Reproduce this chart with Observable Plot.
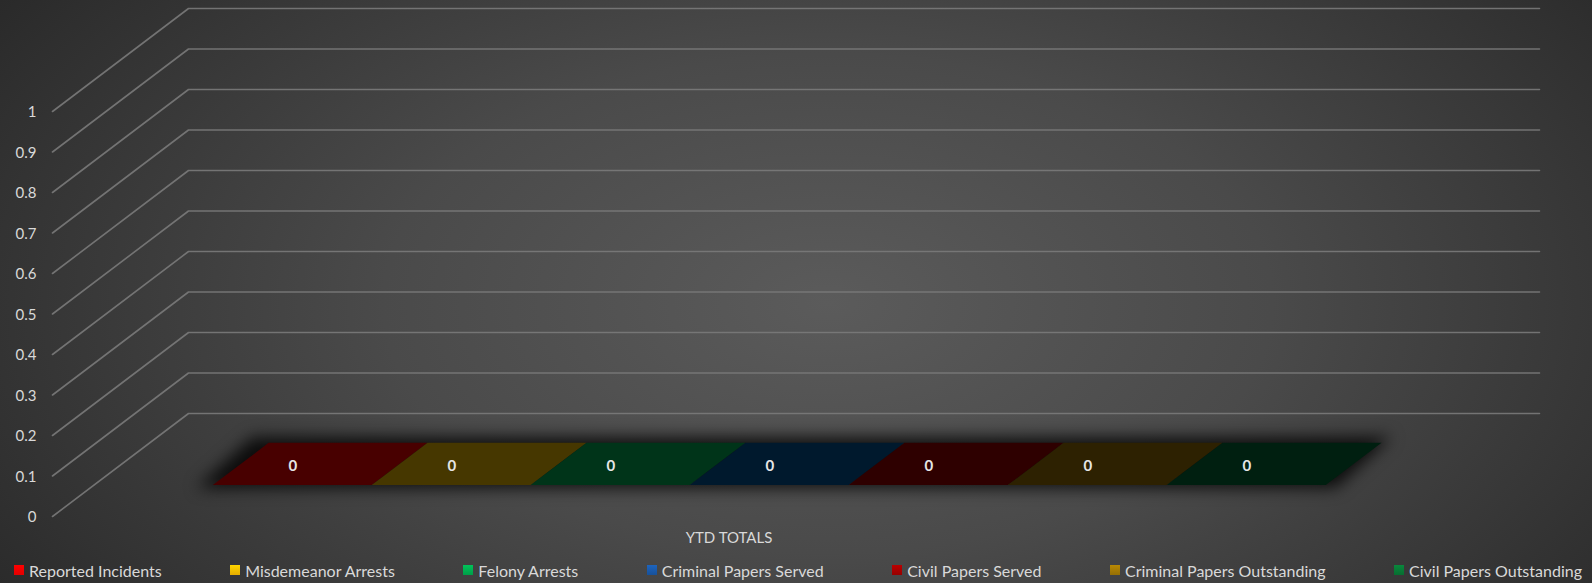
<!DOCTYPE html>
<html>
<head>
<meta charset="utf-8">
<script src="https://cdn.jsdelivr.net/npm/d3@7"></script>
<script src="https://cdn.jsdelivr.net/npm/@observablehq/plot@0.6"></script>
<style>
  html, body { margin: 0; padding: 0; }
  body {
    width: 1592px; height: 583px; overflow: hidden;
    background: radial-gradient(ellipse 62% 95% at 52% 52%, #5b5b5b 0%, #4a4a4a 45%, #2a2a2a 100%);
    font-family: Lato, "Open Sans", sans-serif;
  }
  #chart svg { display: block; background: transparent; }
  #legend {
    display: flex; justify-content: space-between; align-items: center;
    height: 26px; padding: 7px 10px 0 14px; box-sizing: content-box;
    color: #d9d9d9; font-size: 16px; white-space: nowrap;
  }
  .item { display: flex; align-items: center; }
  .sw { width: 10px; height: 10px; margin-right: 5px; }
</style>
</head>
<body>
<div id="chart"></div>
<div id="legend"></div>
<script>
// ---- data ----
const categories = ["Reported Incidents", "Misdemeanor Arrests", "Felony Arrests", "Criminal Papers Served", "Civil Papers Served", "Criminal Papers Outstanding", "Civil Papers Outstanding"];
const values = [0, 0, 0, 0, 0, 0, 0];
const yTicks = [0, 0.1, 0.2, 0.3, 0.4, 0.5, 0.6, 0.7, 0.8, 0.9, 1];
const yTickLabels = ["0", "0.1", "0.2", "0.3", "0.4", "0.5", "0.6", "0.7", "0.8", "0.9", "1"];
const categoryTitle = "YTD TOTALS";

// ---- styles ----
const legendColors = ["#ff0000", "#ffc000", "#00b050", "#1a5aab", "#a80000", "#a67b04", "#087a36"];
const floorColors = ["#480000", "#463700", "#003419", "#00192d", "#2e0000", "#2d2101", "#001f10"];

// ---- layout / projection ----
const W = 1592, H = 550;
const depthVec = [136, -103];     // pixel shift from front plane to back wall
const floorFront = 0.3, floorBack = 0.71;
const wallRange = [52, 1403];
const y = Plot.scale({y: {domain: [0, 1], range: [516, 111]}});
const x = Plot.scale({x: {type: "band", domain: categories, range: [172, 1285], padding: 0}});
const bw = x.bandwidth != null ? x.bandwidth : (1285 - 172) / categories.length;
const P = (xf, v, d) => [xf + d * depthVec[0], y.apply(v) + d * depthVec[1]];

// gridlines: front axis -> back wall -> right
const grid = yTicks.flatMap(t => [[wallRange[0], 0], [wallRange[0], 1], [wallRange[1], 1]].map(([xf, d]) => {
  const [px, py] = P(xf, t, d);
  return {t, px, py};
}));

// tick labels
const tickLabels = yTicks.map((t, i) => {
  const [px, py] = P(wallRange[0], t, 0);
  return {px, py, label: yTickLabels[i]};
});

// bar top faces (3D columns of height = value)
const tops = categories.flatMap((c, i) => [floorFront, floorBack].map(d => {
  const x0 = x.apply(c);
  return {c, i, x1: P(x0, values[i], d)[0], x2: P(x0 + bw, values[i], d)[0], py: P(x0, values[i], d)[1]};
}));
// bar front faces
const fronts = categories.map((c, i) => {
  const x0 = x.apply(c);
  return {i, x1: P(x0, 0, floorFront)[0], x2: P(x0 + bw, 0, floorFront)[0],
          y1: P(x0, 0, floorFront)[1], y2: P(x0, values[i], floorFront)[1]};
});
// shadow under the floor
const first = x.apply(categories[0]), last = x.apply(categories[categories.length - 1]) + bw;
const shadow = [floorFront, floorBack].map(d => ({
  x1: P(first, 0, d)[0] - 16, x2: P(last, 0, d)[0] + 10, py: P(first, 0, d)[1] + (d === floorFront ? 3 : -6)
}));
// data labels
const labels = categories.map((c, i) => {
  const [px, py] = P(x.apply(c) + bw / 2, values[i], floorFront);
  return {px, py, label: String(values[i])};
});
const title = {px: (x.range[0] + x.range[1]) / 2, py: y.apply(0) + 22, label: categoryTitle};

const chart = Plot.plot({
  width: W, height: H, margin: 0,
  x: {type: "identity", axis: null},
  y: {type: "identity", axis: null},
  style: {background: "transparent", fontFamily: "Lato, 'Open Sans', sans-serif", color: "#d9d9d9"},
  marks: [
    Plot.line(grid, {x: "px", y: "py", z: "t", stroke: "#7a7a7a", strokeWidth: 1.6, strokeOpacity: 0.9}),
    Plot.text(tickLabels, {x: "px", y: "py", text: "label", dx: -16, dy: 1, textAnchor: "end", fill: "#d9d9d9", fontSize: 15}),
    Plot.areaX(shadow, {x1: "x1", x2: "x2", y: "py", fill: "#000", fillOpacity: 0.8, ariaDescription: "shadow"}),
    Plot.rect(fronts, {x1: "x1", x2: "x2", y1: "y1", y2: "y2", fill: (d) => floorColors[d.i]}),
    Plot.areaX(tops, {x1: "x1", x2: "x2", y: "py", z: "c", fill: (d) => floorColors[d.i]}),
    Plot.text(labels, {x: "px", y: "py", text: "label", dy: -19, fill: "#e6e6e6", fontSize: 15, fontWeight: "bold"}),
    Plot.text([title], {x: "px", y: "py", text: "label", fill: "#d9d9d9", fontSize: 15})
  ]
});
const sh = chart.querySelector('g[aria-description="shadow"]');
if (sh) sh.style.filter = "blur(8px)";
document.getElementById("chart").appendChild(chart);

// legend
const legend = document.getElementById("legend");
categories.forEach((c, i) => {
  const item = document.createElement("div");
  item.className = "item";
  const sw = document.createElement("span");
  sw.className = "sw";
  sw.style.background = `linear-gradient(180deg, ${d3.color(legendColors[i]).brighter(0.3)}, ${d3.color(legendColors[i]).darker(0.3)})`;
  const tx = document.createElement("span");
  tx.textContent = c;
  item.appendChild(sw); item.appendChild(tx);
  legend.appendChild(item);
});
</script>
</body>
</html>
